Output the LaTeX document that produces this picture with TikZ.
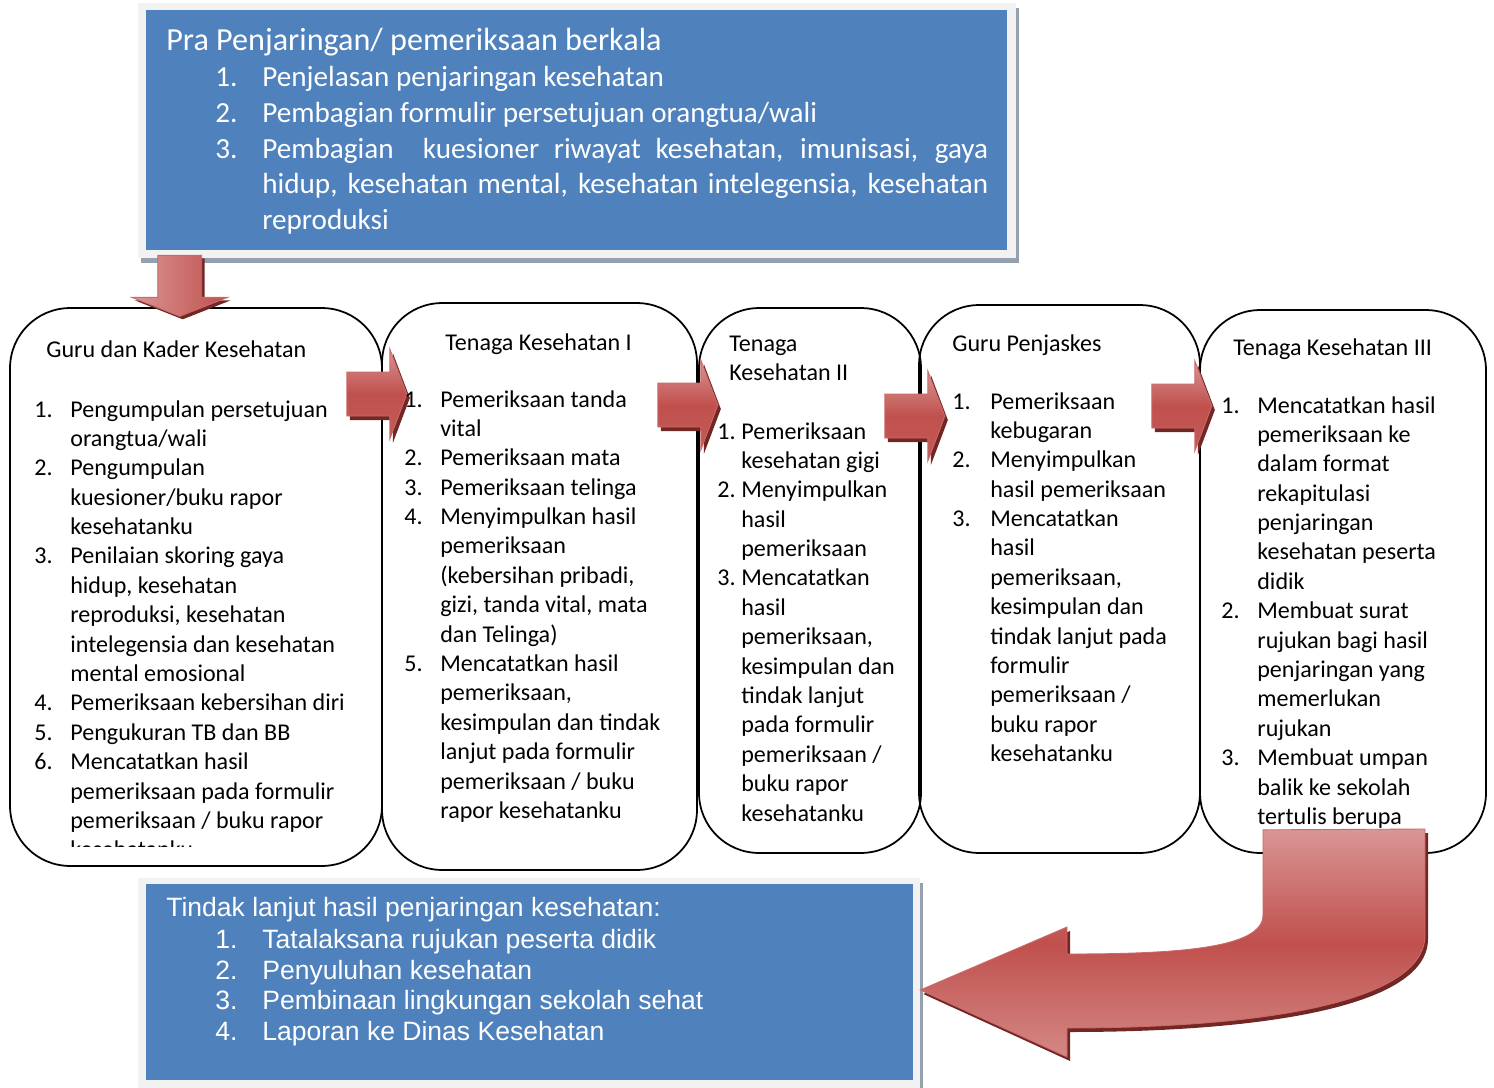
\documentclass[tikz,border=0pt]{standalone}
\usepackage{fontspec}
\setmainfont{Carlito}
\newfontfamily\arialfont{Liberation Sans}
\usepackage{xcolor}
\usepackage{tikz}
\usetikzlibrary{calc,shadows}

\definecolor{boxblue}{HTML}{4F81BD}
\definecolor{framegray}{HTML}{F2F2F2}
\definecolor{shadowgray}{HTML}{95A0AE}
\definecolor{arrowlight}{HTML}{D99694}
\definecolor{arrowmid}{HTML}{C0504D}
\definecolor{arrowdark}{HTML}{722725}

\newcommand{\boxfont}{\fontsize{13.7}{16.73}\selectfont}
\newcommand{\prafont}{\fontsize{16.6}{20.3}\selectfont}
\newcommand{\pratitlefont}{\fontsize{18.3}{20.3}\selectfont}
\newcommand{\tindakfont}{\arialfont\fontsize{15.1}{17.5}\selectfont}
\newcommand{\steplist}[2]{\begin{tabular}[t]{@{}p{#1}@{}l@{}}#2\end{tabular}}
\newcommand{\titlelines}[1]{\begin{tabular}[t]{@{}l@{}}#1\end{tabular}}

\tikzset{
  roundbox/.style={draw,line width=1pt,rounded corners=1.2cm,inner sep=0pt},
  boxtext/.style={anchor=base west,inner sep=0pt,font=\boxfont},
  bluetext/.style={anchor=base west,inner sep=0pt,text=white},
  bluebox/.style={fill=boxblue,inner sep=0pt},
  framebox/.style={fill=framegray,inner sep=0pt,drop shadow={shadow xshift=0.06cm,shadow yshift=-0.1cm,fill=shadowgray,opacity=1}},
  arrowshade/.style={top color=arrowlight,bottom color=arrowmid!85!arrowlight,middle color=arrowmid,draw=arrowmid!85!white,line width=0.5pt},
  rarrowpath/.style={insert path={(-30,-22) -- (13,-22) -- (13,-45) -- (30,0) -- (13,45) -- (13,22) -- (-30,22) -- cycle}},
  darrowpath/.style={insert path={(-22,-31) -- (22,-31) -- (22,11) -- (48,11) -- (0,30) -- (-48,11) -- (-22,11) -- cycle}},
  rarrow/.pic={
    \fill[arrowdark,shift={(3,4)},rarrowpath];
    \shade[arrowshade,rarrowpath];
  },
  darrow/.pic={
    \fill[arrowdark,shift={(3,3)},darrowpath];
    \shade[left color=arrowlight,right color=arrowmid,draw=arrowmid!85!white,line width=0.5pt,darrowpath];
  }
}

\begin{document}
\begin{tikzpicture}[x=0.02cm,y=-0.02cm]
\useasboundingbox (0,0) rectangle (1494,1088);

% upper box
\node[framebox,minimum width=17.56cm,minimum height=5.1cm] (praframe) at (577,130.5) {};
\node[bluebox,minimum width=17.22cm,minimum height=4.8cm] (pra) at (576.5,130) {};
\node[bluetext,font=\pratitlefont] (pratitle) at (166,50.7) {Pra Penjaringan/ pemeriksaan berkala};
\node[bluetext,font=\prafont] (pralist) at (215,86.7) {\steplist{0.94cm}{
1. & Penjelasan penjaringan kesehatan\\
2. & Pembagian formulir persetujuan orangtua/wali\\
3. & \makebox[14.52cm][s]{Pembagian \ kuesioner riwayat kesehatan, imunisasi, gaya}\\
   & \makebox[14.52cm][s]{hidup, kesehatan mental, kesehatan intelegensia, kesehatan}\\
   & reproduksi}};

% the five steps
\node[roundbox,minimum width=7.44cm,minimum height=11.16cm] (guru) at (196,587) {};
\node[roundbox,minimum width=6.3cm,minimum height=11.34cm] (tk1) at (539.5,586.5) {};
\node[roundbox,minimum width=4.44cm,minimum height=10.9cm] (tk2) at (810,580.5) {};
\node[roundbox,minimum width=5.62cm,minimum height=10.96cm] (penj) at (1059.5,579) {};
\node[roundbox,minimum width=5.72cm,minimum height=10.86cm] (tk3) at (1343,581.5) {};

\pic at ($(pra.south west)+(34,36)$) {darrow};
\pic at ($(guru.east)+(-6,-193)$) {rarrow};
\pic at ($(tk1.east)+(-10,-181.5)$) {rarrow};
\pic at ($(tk2.east)+(-7,-164.5)$) {rarrow};
\pic at ($(penj.east)+(-19,-173)$) {rarrow};

\node[boxtext] (gurutitle) at (46,357) {Guru dan Kader Kesehatan};
\begin{scope}
\clip (0,0) rectangle (1494,846);
\node[boxtext] (gurulist) at (34,417) {\steplist{0.72cm}{
1. & Pengumpulan persetujuan\\
   & orangtua/wali\\
2. & Pengumpulan\\
   & kuesioner/buku rapor\\
   & kesehatanku\\
3. & Penilaian skoring gaya\\
   & hidup, kesehatan\\
   & reproduksi, kesehatan\\
   & intelegensia dan kesehatan\\
   & mental emosional\\
4. & Pemeriksaan kebersihan diri\\
5. & Pengukuran TB dan BB\\
6. & Mencatatkan hasil\\
   & pemeriksaan pada formulir\\
   & pemeriksaan / buku rapor\\
   & kesehatanku}};
\end{scope}

\node[boxtext] (tk1title) at (445,350) {Tenaga Kesehatan I};
\node[boxtext] (tk1list) at (404,407) {\steplist{0.72cm}{
1. & Pemeriksaan tanda\\
   & vital\\
2. & Pemeriksaan mata\\
3. & Pemeriksaan telinga\\
4. & Menyimpulkan hasil\\
   & pemeriksaan\\
   & (kebersihan pribadi,\\
   & gizi, tanda vital, mata\\
   & dan Telinga)\\
5. & Mencatatkan hasil\\
   & pemeriksaan,\\
   & kesimpulan dan tindak\\
   & lanjut pada formulir\\
   & pemeriksaan / buku\\
   & rapor kesehatanku}};

\node[boxtext] (tk2title) at (729,351) {\titlelines{Tenaga\\Kesehatan II}};
\node[boxtext] (tk2list) at (717,439) {\steplist{0.48cm}{
1. & Pemeriksaan\\
   & kesehatan gigi\\
2. & Menyimpulkan\\
   & hasil\\
   & pemeriksaan\\
3. & Mencatatkan\\
   & hasil\\
   & pemeriksaan,\\
   & kesimpulan dan\\
   & tindak lanjut\\
   & pada formulir\\
   & pemeriksaan /\\
   & buku rapor\\
   & kesehatanku}};

\node[boxtext] (penjtitle) at (952,351) {Guru Penjaskes};
\node[boxtext] (penjlist) at (952,409) {\steplist{0.76cm}{
1. & Pemeriksaan\\
   & kebugaran\\
2. & Menyimpulkan\\
   & hasil pemeriksaan\\
3. & Mencatatkan\\
   & hasil\\
   & pemeriksaan,\\
   & kesimpulan dan\\
   & tindak lanjut pada\\
   & formulir\\
   & pemeriksaan /\\
   & buku rapor\\
   & kesehatanku}};

\node[boxtext] (tk3title) at (1233,355) {Tenaga Kesehatan III};
\node[boxtext] (tk3list) at (1221,413) {\steplist{0.72cm}{
1. & Mencatatkan hasil\\
   & pemeriksaan ke\\
   & dalam format\\
   & rekapitulasi\\
   & penjaringan\\
   & kesehatan peserta\\
   & didik\\
2. & Membuat surat\\
   & rujukan bagi hasil\\
   & penjaringan yang\\
   & memerlukan\\
   & rujukan\\
3. & Membuat umpan\\
   & balik ke sekolah\\
   & tertulis berupa}};

% lower box
\node[framebox,minimum width=15.64cm,minimum height=4.24cm] (tindakframe) at (529,984) {};
\node[bluebox,minimum width=15.34cm,minimum height=3.92cm] (tindak) at (529.5,982) {};
\node[bluetext,font=\tindakfont] (tindaktitle) at (166,916.7) {Tindak lanjut hasil penjaringan kesehatan:};
\node[bluetext,font=\tindakfont] (tindaklist) at (215,948.3) {\steplist{0.94cm}{
1. & Tatalaksana rujukan peserta didik\\
2. & Penyuluhan kesehatan\\
3. & Pembinaan lingkungan sekolah sehat\\
4. & Laporan ke Dinas Kesehatan}};

% u-turn arrow back to the lower box
\coordinate (uturn) at ($(tk3.south)+(-80,-24)$);
\coordinate (uturntip) at ($(tindak.east)+(7,8)$);
\fill[arrowdark,transform canvas={shift={(0.06cm,-0.08cm)}}] (uturn) -- (1425,829) -- (1425,935)
  .. controls (1425,1005) and (1250,1028) .. (1067,1028) -- (1067,1057) -- (uturntip)
  -- (1067,927) -- (1067,954) .. controls (1180,954) and (1263,948) .. (1263,915) -- cycle;
\shade[top color=arrowlight,bottom color=arrowlight!80!arrowmid,middle color=arrowmid,draw=arrowmid!85!white,line width=0.5pt]
  (uturn) -- (1425,829) -- (1425,935)
  .. controls (1425,1005) and (1250,1028) .. (1067,1028) -- (1067,1057) -- (uturntip)
  -- (1067,927) -- (1067,954) .. controls (1180,954) and (1263,948) .. (1263,915) -- cycle;
\end{tikzpicture}
\end{document}
